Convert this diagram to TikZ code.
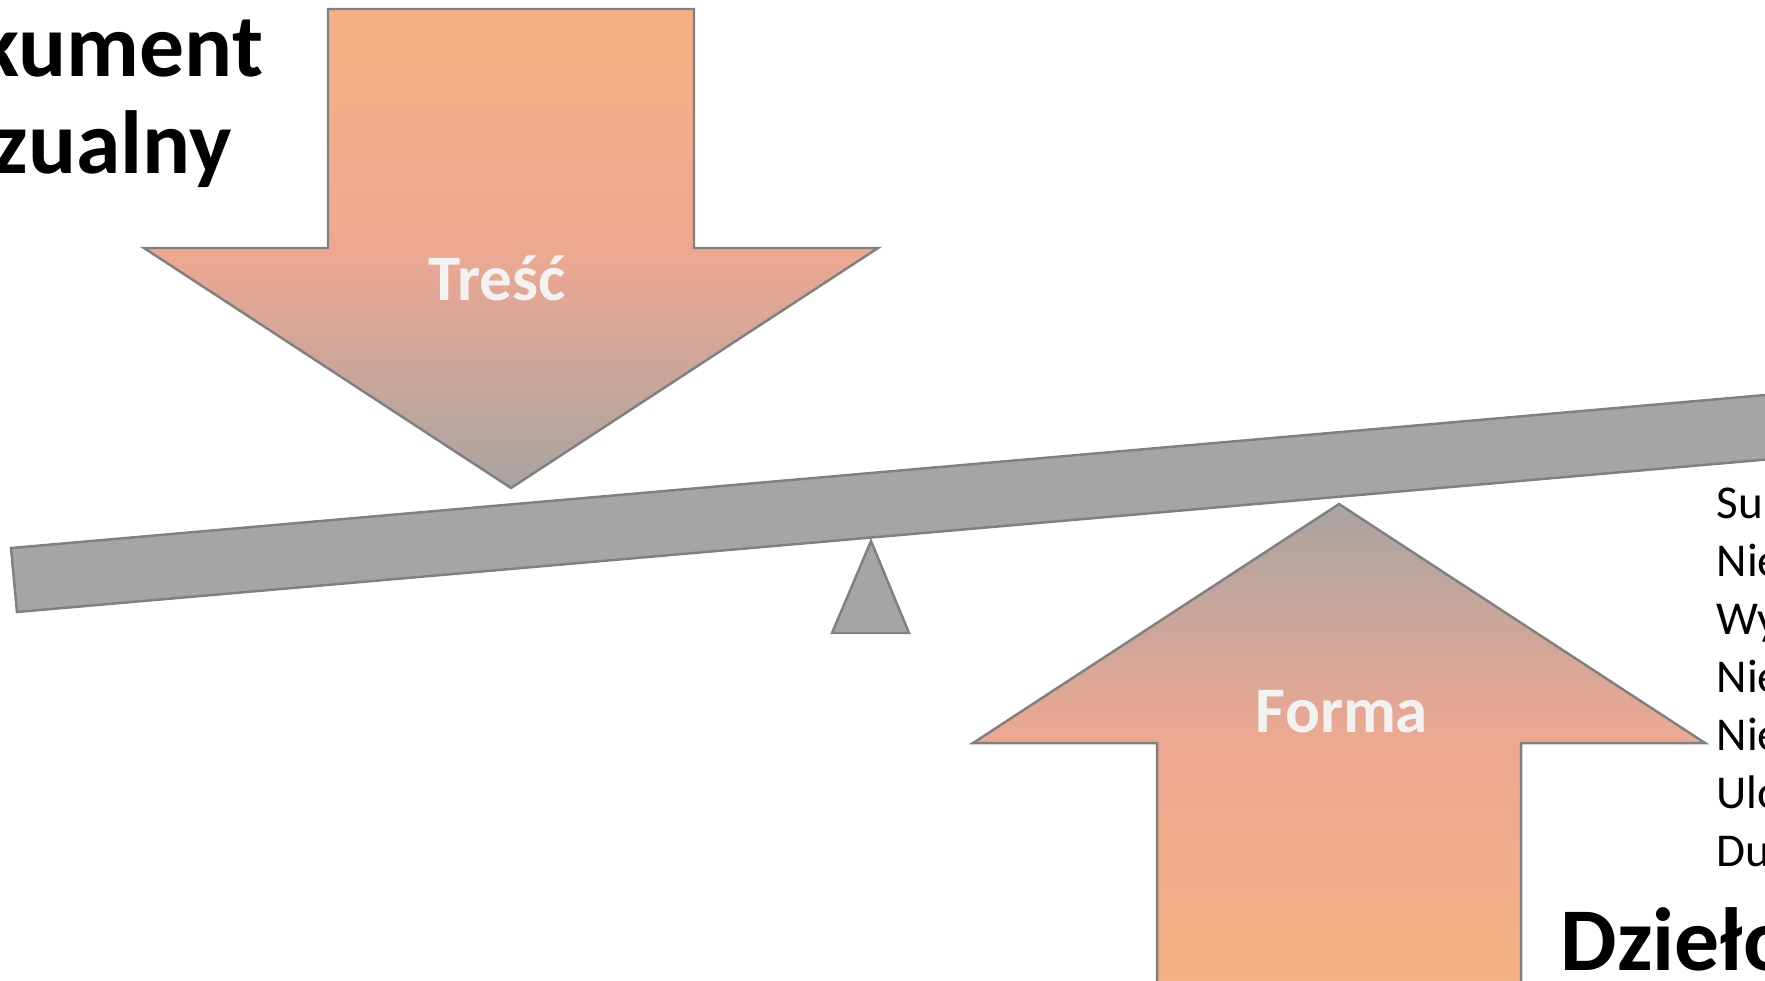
\documentclass[tikz,border=0pt]{standalone}
\usepackage{fontspec}
\setmainfont{Carlito}
\usepackage{tikz}
\usepackage{tkz-euclide}
\usetikzlibrary{calc}
\definecolor{peach}{HTML}{F4B183}
\definecolor{salmon}{HTML}{EEA891}
\definecolor{ash}{HTML}{A9A4A2}
\definecolor{beamgray}{HTML}{A5A5A5}
\definecolor{edgegray}{HTML}{808080}
\definecolor{paletext}{HTML}{F2F2F2}
\tikzset{
  outline/.style={draw=edgegray,line width=0.7pt,line join=miter},
  arrowfill/.style 2 args={outline,top color=#1,bottom color=#2,middle color=salmon},
  title/.style={inner sep=0pt,font=\bfseries\fontsize{25.5}{27.6}\selectfont},
  arrowlabel/.style={inner sep=0pt,text=paletext,font=\bfseries\fontsize{18.5}{22}\selectfont}
}

\begin{document}
\begin{tikzpicture}
                    \useasboundingbox (0,0) rectangle (17.65,9.80);

                    \tkzDefPoint(0.11,4.32){B1}
                    \tkzDefPoint(18.50,5.924){B2}
                    \tkzDefPoint(18.50,5.278){B3}
                    \tkzDefPoint(0.17,3.68){B4}
                    \tkzDrawPolygon[outline,fill=beamgray](B1,B2,B3,B4)

                    \tkzDefPoint(8.71,4.39){P1}
                    \tkzDefPoint(9.09,3.47){P2}
                    \tkzDefPoint(8.32,3.47){P3}
                    \tkzDrawPolygon[outline,fill=beamgray](P1,P2,P3)

                    \tkzDefPoint(3.28,9.71){T1}
                    \tkzDefPoint(6.94,9.71){T2}
                    \tkzDefPoint(6.94,7.32){T3}
                    \tkzDefPoint(8.78,7.32){T4}
                    \tkzDefPoint(5.11,4.92){T5}
                    \tkzDefPoint(1.44,7.32){T6}
                    \tkzDefPoint(3.28,7.32){T7}
                    \tkzDrawPolygon[arrowfill={peach}{ash}](T1,T2,T3,T4,T5,T6,T7)

                    \tkzDefPoint(13.39,4.76){F1}
                    \tkzDefPoint(17.05,2.37){F2}
                    \tkzDefPoint(15.21,2.37){F3}
                    \tkzDefPoint(15.21,-0.04){F4}
                    \tkzDefPoint(11.57,-0.04){F5}
                    \tkzDefPoint(11.57,2.37){F6}
                    \tkzDefPoint(9.73,2.37){F7}
                    \tkzDrawPolygon[arrowfill={ash}{peach}](F1,F2,F3,F4,F5,F6,F7)

                    \node[arrowlabel,anchor=base] (tresc) at (4.97,6.80) {Treść};
                    \node[arrowlabel,anchor=base] (forma) at (13.42,2.48) {Forma};

                    \node[title,anchor=base east,align=center] (dokument) at (2.64,8.07) {Dokument\\wizualny};
                    \node[title,anchor=base west] (dzielo) at (15.60,0.10) {Dzieło};

                    \node[anchor=base west,inner sep=0pt,align=left,
                          font=\fontsize{13.4}{16.5}\selectfont] (lista) at (17.16,1.14)
                          {Su\\Nie\\Wy\\Nie\\Nie\\Ulo\\Du};
                \end{tikzpicture}
\end{document}
